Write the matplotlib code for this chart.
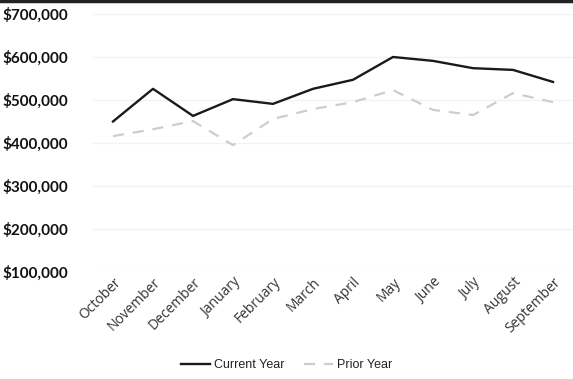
import matplotlib
matplotlib.use("Agg")
import matplotlib.pyplot as plt
from matplotlib.ticker import FuncFormatter

months = ["October", "November", "December", "January", "February", "March",
          "April", "May", "June", "July", "August", "September"]
current_year = [450000, 526000, 463000, 502000, 491000, 526000,
                547000, 600000, 591000, 574000, 570000, 542000]
prior_year = [416000, 432000, 451000, 395000, 456000, 479000,
              495000, 523000, 477000, 465000, 516000, 495000]
y_ticks = [100000, 200000, 300000, 400000, 500000, 600000, 700000]

W, H = 573, 379
fig = plt.figure(figsize=(W / 100, H / 100), dpi=100)
ax = fig.add_axes([93 / W, 1 - 272 / H, 1 - 93 / W, (272 - 14) / H])

x = list(range(len(months)))
ax.plot(x, current_year, color="#1a1a1a", lw=1.7, solid_joinstyle="round",
        label="Current Year")
ax.plot(x, prior_year, color="#cdcdcd", lw=1.6, dashes=(5, 4),
        label="Prior Year")

ax.set_xlim(-0.5, len(months) - 0.5)
ax.set_ylim(100000, 700000)
ax.set_yticks(y_ticks)
ax.yaxis.set_major_formatter(FuncFormatter(lambda v, p: f"${v:,.0f}"))
ax.grid(axis="y", color="#f2f2f2", lw=1)
ax.set_axisbelow(True)
for s in ax.spines.values():
    s.set_visible(False)
ax.tick_params(axis="y", length=0, pad=18)
ax.tick_params(axis="x", length=0, pad=2)
for lbl in ax.get_yticklabels():
    lbl.set_fontfamily("Lato")
    lbl.set_fontweight("bold")
    lbl.set_fontsize(11)
    lbl.set_color("#111111")
ax.set_xticks(x)
ax.set_xticklabels(months, rotation=45, ha="right", rotation_mode="anchor",
                   fontsize=10, color="#333333", family="Open Sans")

leg = fig.legend(loc="center", bbox_to_anchor=(0.5, 1 - 365 / H), ncol=2,
                 frameon=False, prop={"family": "Liberation Sans", "size": 9},
                 handlelength=2.3, handletextpad=0.3, columnspacing=1.6)
for t in leg.get_texts():
    t.set_color("#222222")

fig.add_artist(plt.Line2D([0, 1], [1 - 1 / H, 1 - 1 / H], color="#222222",
                          lw=2.5, transform=fig.transFigure))

fig.savefig("out.png", dpi=100, facecolor="white")
